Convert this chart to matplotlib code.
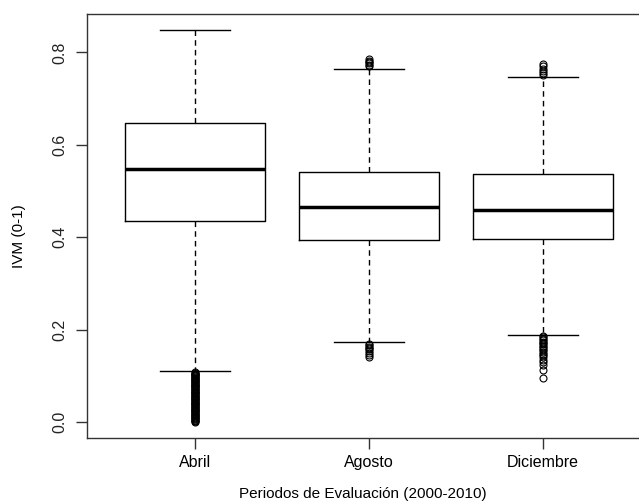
import numpy as np
import matplotlib.pyplot as plt
from matplotlib import rcParams

rcParams['font.family'] = ['Liberation Sans', 'DejaVu Sans']

# values
periodos = ['Abril', 'Agosto', 'Diciembre']
whislo = [0.110, 0.1725, 0.188]
q1 = [0.434, 0.395, 0.397]
med = [0.548, 0.465, 0.459]
q3 = [0.648, 0.542, 0.537]
whishi = [0.849, 0.765, 0.747]

out_abril = [0.000, 0.002, 0.003, 0.005, 0.006, 0.008, 0.009, 0.011, 0.012,
             0.014, 0.015, 0.017, 0.018, 0.020, 0.021, 0.023, 0.024, 0.026,
             0.027, 0.029, 0.030, 0.032, 0.033, 0.035, 0.036, 0.038, 0.039,
             0.041, 0.042, 0.044, 0.045, 0.047, 0.048, 0.050, 0.051, 0.053,
             0.054, 0.056, 0.057, 0.059, 0.060, 0.062, 0.063, 0.065, 0.066,
             0.068, 0.069, 0.071, 0.072, 0.074, 0.075, 0.077, 0.078, 0.080,
             0.081, 0.083, 0.084, 0.086, 0.087, 0.089, 0.090, 0.092, 0.093,
             0.095, 0.096, 0.098, 0.099, 0.101, 0.102, 0.104, 0.105, 0.107,
             0.108]
out_agosto = [0.770, 0.773, 0.776, 0.779, 0.782, 0.785,
              0.169, 0.166, 0.163, 0.160, 0.157, 0.153, 0.149, 0.145, 0.141]
out_diciembre = [0.752, 0.756, 0.760, 0.765, 0.770, 0.775,
                 0.186, 0.183, 0.180, 0.177, 0.174, 0.171, 0.168, 0.165,
                 0.162, 0.159, 0.156, 0.152, 0.148, 0.144, 0.140, 0.135,
                 0.130, 0.123, 0.113, 0.095]
fliers = [out_abril, out_agosto, out_diciembre]

stats = []
for i in range(len(periodos)):
    stats.append(dict(label=periodos[i], whislo=whislo[i], q1=q1[i], med=med[i],
                      q3=q3[i], whishi=whishi[i], fliers=fliers[i]))

fig = plt.figure(figsize=(6.39, 5.03), dpi=100)
ax = fig.add_axes([87/639., 1-438/503., (651-87)/639., (438-14)/503.])

ax.bxp(stats, positions=[1, 2, 3], widths=0.8, capwidths=0.4,
       boxprops=dict(color='black', lw=1.0),
       whiskerprops=dict(color='black', lw=1.0, ls=(0, (4, 3))),
       capprops=dict(color='black', lw=1.0),
       medianprops=dict(color='black', lw=2.5, solid_capstyle='butt'),
       flierprops=dict(marker='o', markersize=5, markerfacecolor='none',
                       markeredgecolor='black', markeredgewidth=0.8))

ax.set_xlim(0.379, 3.621)
ax.set_ylim(-0.0346, 0.8831)
ax.set_yticks([0.0, 0.2, 0.4, 0.6, 0.8])
ax.set_yticklabels(['0.0', '0.2', '0.4', '0.6', '0.8'], rotation=90, va='center')
ax.set_xticks([1, 2, 3])
ax.set_xticklabels(periodos)
ax.tick_params(axis='both', length=8, width=1, color='#333333', labelsize=11.5, pad=4)
ax.tick_params(axis='y', pad=6, labelcolor='#222222')
for sp in ax.spines.values():
    sp.set_color('#333333')
    sp.set_linewidth(1)

fig.text(363/639., 1-494/503., 'Periodos de Evaluación (2000-2010)', ha='center', va='center', fontsize=11)
fig.text(19/639., 1-236/503., 'IVM (0-1)', ha='center', va='center', rotation=90, fontsize=11)

fig.savefig('out.png', dpi=100)
